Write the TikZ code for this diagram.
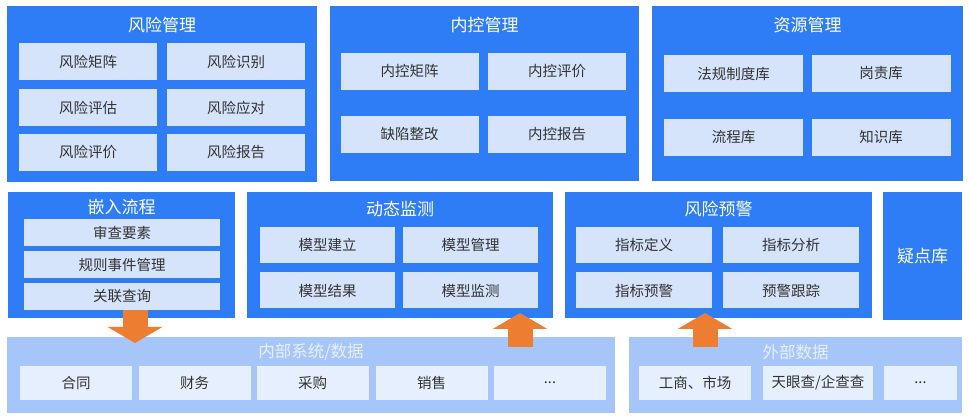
\documentclass[tikz,border=0pt]{standalone}
\usepackage{fontspec}
\setmainfont{Noto Sans CJK SC}
\usetikzlibrary{arrows.meta}
\definecolor{panelblue}{HTML}{2F7DF6}
\definecolor{boxblue}{HTML}{D5E3FB}
\definecolor{baseblue}{HTML}{A6C6FA}
\definecolor{cellblue}{HTML}{E6EFFE}
\definecolor{arroworange}{HTML}{ED7D31}
\definecolor{txtgray}{HTML}{333333}
\begin{document}
\begin{tikzpicture}[x=1pt,y=-1pt]
\tikzstyle{every node}=[inner sep=0pt,outer sep=0pt]
\tikzstyle{panel}=[fill=panelblue,anchor=north west]
\tikzstyle{base}=[fill=baseblue,anchor=north west]
\tikzstyle{title}=[text=white,font=\fontsize{17}{20}\selectfont]
\tikzstyle{basetitle}=[text=cellblue,font=\fontsize{16.5}{20}\selectfont]
\tikzstyle{item}=[fill=boxblue,text=txtgray,font=\fontsize{14.5}{17}\selectfont,minimum width=138pt,minimum height=37pt]
\tikzstyle{cell}=[fill=cellblue,text=txtgray,font=\fontsize{14.5}{17}\selectfont,minimum width=112pt,minimum height=34pt]
\tikzstyle{bigarrow}=[arroworange,line width=25pt,-{Triangle[width=54pt,length=16pt]}]
\fill[white](0,0) rectangle (969,419);
\useasboundingbox (0,0) rectangle (969,419);
\node[panel,minimum width=310pt,minimum height=176pt](risk) at (7,6){};
\node[title](riskt) at (162,25){风险管理};
\node[item](risk1) at (88,61.5){风险矩阵};
\node[item](risk2) at (236,61.5){风险识别};
\node[item](risk3) at (88,107.5){风险评估};
\node[item](risk4) at (236,107.5){风险应对};
\node[item](risk5) at (88,152.5){风险评价};
\node[item](risk6) at (236,152.5){风险报告};
\node[panel,minimum width=309pt,minimum height=175pt](ctrl) at (330,6){};
\node[title](ctrlt) at (484.5,25){内控管理};
\node[item](ctrl1) at (409.5,71.5){内控矩阵};
\node[item](ctrl2) at (557,71.5){内控评价};
\node[item](ctrl3) at (409.5,134.5){缺陷整改};
\node[item](ctrl4) at (557,134.5){内控报告};
\node[panel,minimum width=311pt,minimum height=175pt](res) at (652,6){};
\node[title](rest) at (807.5,25){资源管理};
\node[item,minimum width=139pt](res1) at (733.5,73.5){法规制度库};
\node[item,minimum width=139pt](res2) at (881,73.5){岗责库};
\node[item,minimum width=139pt](res3) at (733.5,137.5){流程库};
\node[item,minimum width=139pt](res4) at (881,137.5){知识库};
\node[panel,minimum width=227pt,minimum height=126pt](embed) at (8,192){};
\node[title](embedt) at (121.5,207){嵌入流程};
\node[item,minimum width=196pt,minimum height=27pt](embed1) at (122,233){审查要素};
\node[item,minimum width=196pt,minimum height=27pt](embed2) at (122,264.5){规则事件管理};
\node[item,minimum width=196pt,minimum height=27pt](embed3) at (122,296.5){关联查询};
\node[panel,minimum width=306pt,minimum height=126pt](mon) at (247,192){};
\node[title](mont) at (400,209){动态监测};
\node[item,minimum width=135pt,minimum height=36pt](mon1) at (327.5,245){模型建立};
\node[item,minimum width=135pt,minimum height=36pt](mon2) at (470.5,245){模型管理};
\node[item,minimum width=135pt,minimum height=36pt](mon3) at (327.5,290.5){模型结果};
\node[item,minimum width=135pt,minimum height=36pt](mon4) at (470.5,290.5){模型监测};
\node[panel,minimum width=307pt,minimum height=126pt](warn) at (565,192){};
\node[title](warnt) at (718.5,209){风险预警};
\node[item,minimum width=136pt,minimum height=36pt](warn1) at (644,245){指标定义};
\node[item,minimum width=136pt,minimum height=36pt](warn2) at (791,245){指标分析};
\node[item,minimum width=136pt,minimum height=36pt](warn3) at (644,290.5){指标预警};
\node[item,minimum width=136pt,minimum height=36pt](warn4) at (791,290.5){预警跟踪};
\node[panel,title,minimum width=79pt,minimum height=128pt](susp) at (883,192){疑点库};
\node[base,minimum width=608pt,minimum height=76pt](inner) at (7,337){};
\node[basetitle](innert) at (311,352){内部系统/数据};
\node[cell](inner1) at (76,383){合同};
\node[cell](inner2) at (194.5,383){财务};
\node[cell](inner3) at (312.5,383){采购};
\node[cell](inner4) at (431.5,383){销售};
\node[cell](inner5) at (550,383){...};
\node[base,minimum width=333pt,minimum height=76pt](outer) at (629,337){};
\node[basetitle](outert) at (795.5,352){外部数据};
\node[cell](outer1) at (695,383){工商、市场};
\node[cell,minimum width=110pt](outer2) at (818,383){天眼查/企查查};
\node[cell,minimum width=73pt](outer3) at (920.5,383){...};
\coordinate(dn) at (135,0);
\coordinate(upa) at (520,0);
\coordinate(upb) at (705,0);
\draw[bigarrow]([yshift=8pt]embed.south -| dn)--([yshift=-6pt]inner.north -| dn);
\draw[bigarrow]([yshift=-10pt]inner.north -| upa)--([yshift=5pt]mon.south -| upa);
\draw[bigarrow]([yshift=-10pt]outer.north -| upb)--([yshift=5pt]warn.south -| upb);
\end{tikzpicture}
\end{document}
